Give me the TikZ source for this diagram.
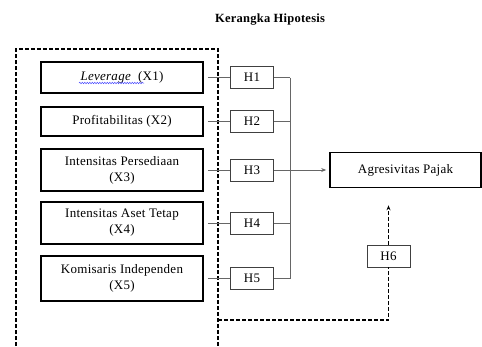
\documentclass[tikz,border=0pt]{standalone}
\usepackage{fontspec}
\setmainfont{Liberation Serif}[LetterSpace=2]
\usetikzlibrary{arrows.meta,decorations.pathmorphing}
\begin{document}
\begin{tikzpicture}[x=1pt,y=-1pt,
  every node/.style={font=\fontsize{13}{16}\selectfont, text=black},
  varbox/.style={draw=black, line width=1.6pt, minimum width=162pt, align=center, inner sep=0pt},
  hbox/.style={draw=black!75, line width=0.6pt, minimum width=43pt, minimum height=22pt, inner sep=0pt},
  conn/.style={draw=black!60, line width=0.8pt},
  dashline/.style={draw=black, line width=1.2pt, dash pattern=on 4pt off 2pt}]
\useasboundingbox (0,0) rectangle (482,346);
\node[font=\fontsize{12.5}{14}\selectfont\bfseries] (title) at (270,20) {Kerangka Hipotesis};
% variable boxes
\node[varbox, minimum height=31pt] (x1) at (122,77.5) {\textit{Leverage}\ \ (X1)};
\node[varbox, minimum height=29pt] (x2) at (122,121.5) {Profitabilitas (X2)};
\node[varbox, minimum height=42pt] (x3) at (122,170) {Intensitas Persediaan\\(X3)};
\node[varbox, minimum height=42pt] (x4) at (122,223) {Intensitas Aset Tetap\\(X4)};
\node[varbox, minimum height=45pt] (x5) at (122,278.5) {Komisaris Independen\\(X5)};
% hypothesis boxes
\node[hbox] (h1) at (252,77.5) {H1};
\node[hbox] (h2) at (252,121.5) {H2};
\node[hbox] (h3) at (252,170) {H3};
\node[hbox] (h4) at (252,223) {H4};
\node[hbox] (h5) at (252,278.5) {H5};
\node[hbox] (h6) at (388.5,256) {H6};
\node[varbox, minimum width=151pt, minimum height=35pt] (ag) at (405.5,170) {Agresivitas Pajak};
% spell-check underline
\draw[blue!70, line width=0.5pt, decorate, decoration={snake, amplitude=0.7pt, segment length=2.5pt}] (79,83) -- (144,83);
% dashed frame
\draw[dashline] (16,346) -- (16,49) -- (218,49) -- (218,346);
% connectors
\foreach \i in {1,...,5}{
  \draw[conn] ([xshift=4pt]x\i.east) -- (h\i.west);
}
\coordinate (bt) at (290,77.5);
\coordinate (bb) at (290,278.5);
\draw[conn] (bt) -- (bb);
\draw[conn] (h1.east) -- (h1.east -| bt);
\draw[conn] (h2.east) -- (h2.east -| bt);
\draw[conn] (h4.east) -- (h4.east -| bt);
\draw[conn] (h5.east) -- (h5.east -| bt);
\draw[conn, -{Stealth[length=5pt,width=4pt]}] (h3.east) -- ([xshift=-3pt]ag.west);
% dashed H6 path
\coordinate (dc) at (218,320);
\coordinate (tip) at ([yshift=-17pt]ag.south);
\draw[dashline] (dc) -- (dc -| h6) -- (h6.south);
\draw[dashline, -{Stealth[length=5pt,width=4pt]}] (h6.north) -- (h6.north |- tip);
\end{tikzpicture}
\end{document}
